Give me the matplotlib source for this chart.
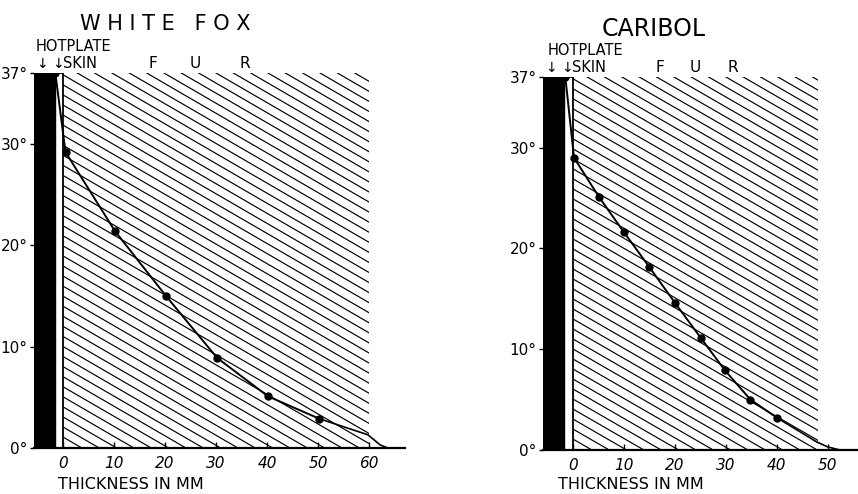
import numpy as np
import matplotlib
matplotlib.use("Agg")
import matplotlib.pyplot as plt
from matplotlib.patches import Rectangle

# white fox readings (mm from skin, deg C)
fox_mm = [-1.5, 0.5, 10.2, 20.2, 30.2, 40.2, 50.2]
fox_temp = [37, 29.2, 21.4, 15.0, 8.9, 5.1, 2.9]
fox_tail_mm = [50.2, 59.8, 62.2, 63.7]
fox_tail_temp = [2.9, 1.3, 0.3, 0]
fox_fur_end = 60
fox_xticks = [0, 10, 20, 30, 40, 50, 60]

# caribou readings
car_mm = [-1.5, 0.2, 5.1, 10.0, 14.9, 20.0, 25.1, 29.8, 34.8, 40.0]
car_temp = [37, 29.0, 25.1, 21.6, 18.2, 14.6, 11.1, 7.9, 5.0, 3.2]
car_tail_mm = [40.0, 47.8, 50.0, 52.4]
car_tail_temp = [3.2, 0.8, 0.3, 0]
car_fur_end = 48
car_xticks = [0, 10, 20, 30, 40, 50]

yticks = [0, 10, 20, 30, 37]
ylabels = ["0°", "10°", "20°", "30°", "37°"]

FONT = ["DejaVu Sans"]

fig = plt.figure(figsize=(8.58, 4.94), dpi=100)


def panel(ax, mm, temp, tail_mm, tail_temp, fur_end, xticks, xlim, hot,
          title, title_x, title_size, fur_x, hot_x, skin_x, thick_x, thick_y):
    ax.set_xlim(*xlim)
    ax.set_ylim(0, 37)
    for s in ["top", "right", "left"]:
        ax.spines[s].set_visible(False)
    ax.spines["bottom"].set_linewidth(1.6)

    # hotplate and skin
    ax.add_patch(Rectangle((hot[0], 0), hot[1] - hot[0], 37, color="black", zorder=2))
    ax.plot([hot[1], 0, 0], [37, 37, 0], color="black", lw=1.3, zorder=3)

    # fur hatching
    clip = Rectangle((0, 0), fur_end, 37, transform=ax.transData, fill=False, lw=0)
    ax.add_patch(clip)
    slope = 0.292
    for x0 in np.arange(-140, fur_end + 4, 3.4):
        ln, = ax.plot([x0, x0 + 140], [37, 37 - slope * 140], color="black", lw=0.85, zorder=1)
        ln.set_clip_path(clip)

    ax.plot(mm, temp, color="black", lw=1.4, marker="o", ms=5, zorder=4)
    ax.plot(tail_mm, tail_temp, color="black", lw=1.2, zorder=4)

    ax.set_yticks(yticks)
    ax.set_yticklabels(ylabels, fontsize=11, family=FONT)
    ax.tick_params(axis="y", length=3, width=1, pad=2, direction="out")
    ax.set_xticks(xticks)
    ax.set_xticklabels([str(t) for t in xticks], fontsize=11, style="italic", family=FONT)
    ax.tick_params(axis="x", length=4, width=1, pad=6, direction="in")

    ax.text(title_x, 41.8, title, ha="center", va="center", fontsize=title_size,
            family=FONT, clip_on=False)
    ax.text(hot_x, 39.6, "HOTPLATE", ha="center", va="center", fontsize=10.5, family=FONT, clip_on=False)
    ax.text(hot[0] + 1.5, 37.9, "↓", ha="center", va="center", fontsize=10, family=FONT, clip_on=False)
    ax.text(hot[1] + 0.6, 37.9, "↓", ha="center", va="center", fontsize=10, family=FONT, clip_on=False)
    ax.text(skin_x, 37.9, "SKIN", ha="left", va="center", fontsize=10.5, family=FONT, clip_on=False)
    for letter, fx in zip("FUR", fur_x):
        ax.text(fx, 37.9, letter, ha="center", va="center", fontsize=11, family=FONT, clip_on=False)
    ax.text(thick_x, thick_y, "THICKNESS IN MM", ha="center", va="center", fontsize=11.5,
            family=FONT, clip_on=False)


ax1 = fig.add_axes([34.4 / 858, 46 / 494, (404.7 - 34.4) / 858, 375 / 494])
panel(ax1, fox_mm, fox_temp, fox_tail_mm, fox_tail_temp, fox_fur_end, fox_xticks,
      (-5.6, 67), (-5.6, -1.6), "W H I T E   F O X", 20, 15, [17.6, 25.9, 35.7], 2.0, 0.0, 13.3, -3.6)

ax2 = fig.add_axes([543.4 / 858, 44 / 494, (858 - 543.4) / 858, 373 / 494])
panel(ax2, car_mm, car_temp, car_tail_mm, car_tail_temp, car_fur_end, car_xticks,
      (-5.8, 55.9), (-5.8, -1.7), "CARIBOL", 15.9, 17, [17.0, 23.9, 31.4], 2.5, -0.2, 11.4, -3.4)

fig.savefig("out.png", dpi=100)
